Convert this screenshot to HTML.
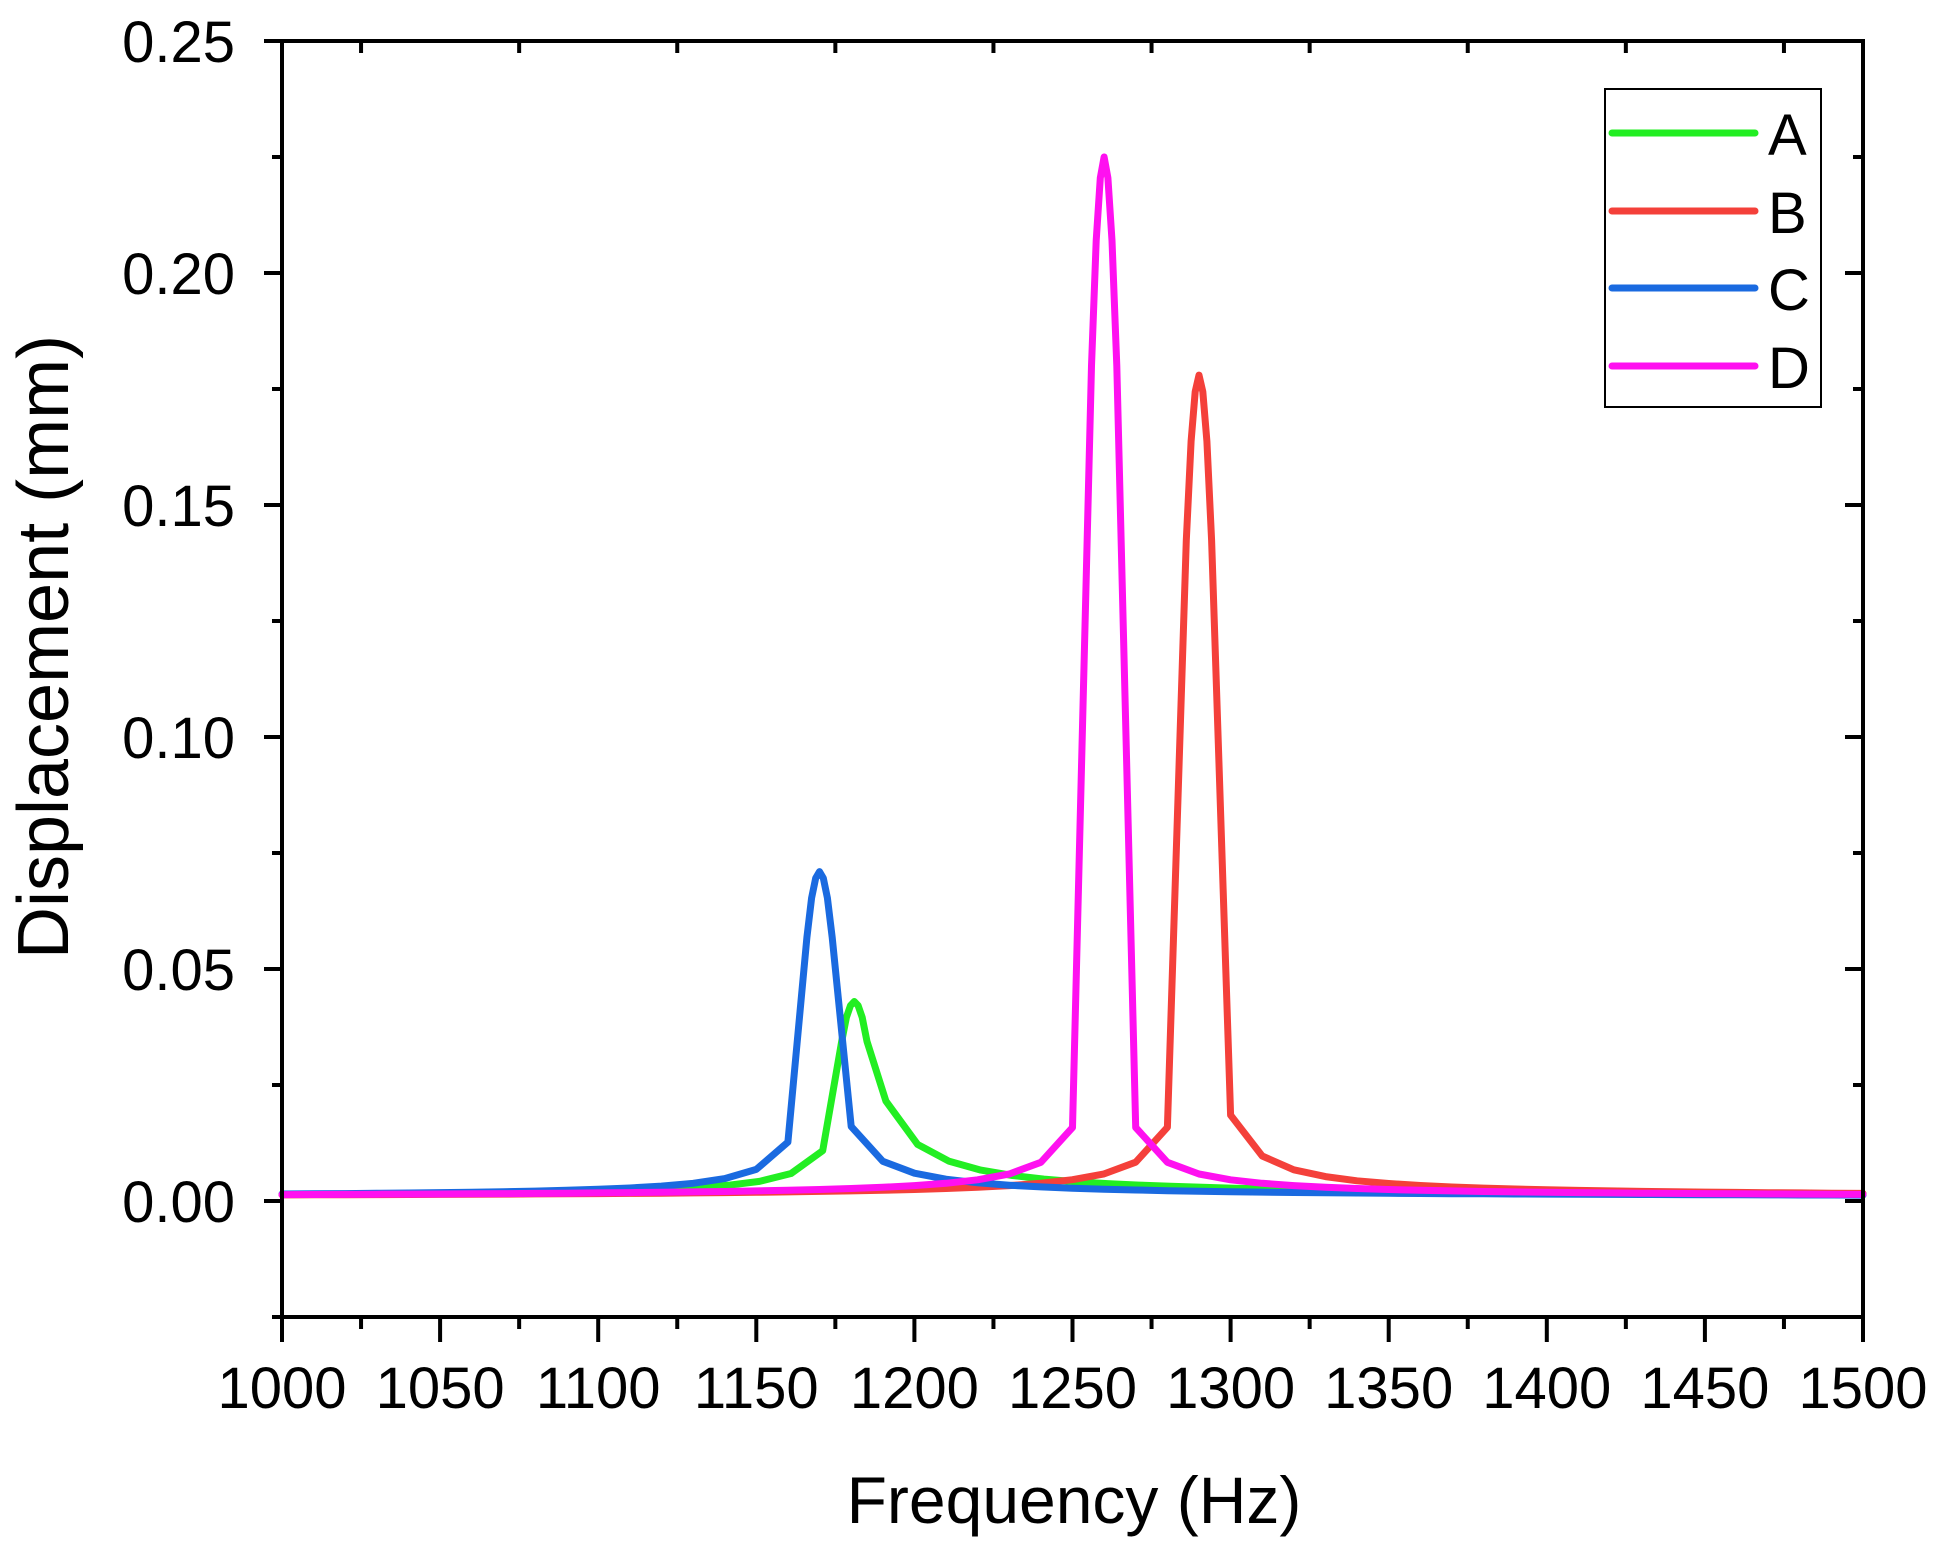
<!DOCTYPE html>
<html><head><meta charset="utf-8"><style>
body{margin:0;background:#fff;}
svg{display:block;font-family:"Liberation Sans",sans-serif;}
</style></head><body>
<svg id="s" width="1939" height="1543" xmlns="http://www.w3.org/2000/svg">
<rect width="1939" height="1543" fill="#fff"/>
<g id="curves" fill="none" stroke-width="7" stroke-linejoin="round" stroke-linecap="round"></g>
<rect x="282" y="41" width="1581" height="1276" fill="none" stroke="#000" stroke-width="4"/>
<g id="ticks" stroke="#000" stroke-width="4"></g>
<g id="labels" font-size="58" fill="#000"></g>
<text x="1074" y="1523" font-size="66" text-anchor="middle">Frequency (Hz)</text>
<text transform="translate(68,647) rotate(-90)" font-size="72" text-anchor="middle">Displacement (mm)</text>
<rect x="1605" y="89" width="216" height="318" fill="#fff" stroke="#000" stroke-width="2"/>
<g stroke-width="7" stroke-linecap="round">
<line x1="1612" y1="133" x2="1755" y2="133" stroke="#22ee22"/>
<line x1="1612" y1="211" x2="1755" y2="211" stroke="#f4403a"/>
<line x1="1612" y1="288" x2="1755" y2="288" stroke="#1a6ae0"/>
<line x1="1612" y1="366" x2="1755" y2="366" stroke="#ff10f0"/>
</g>
<g font-size="58" fill="#000">
<text x="1768" y="155">A</text><text x="1768" y="233">B</text>
<text x="1768" y="310">C</text><text x="1768" y="388">D</text>
</g>
</svg>
<script>
var X=f=>282+(f-1000)*1581/500, Y=v=>1201-v*4640;
var ns="http://www.w3.org/2000/svg";
var t=document.getElementById('ticks'),L=document.getElementById('labels');
function ln(x1,y1,x2,y2){var e=document.createElementNS(ns,'line');e.setAttribute('x1',x1);e.setAttribute('y1',y1);e.setAttribute('x2',x2);e.setAttribute('y2',y2);t.appendChild(e);}
function tx(x,y,s,a){var e=document.createElementNS(ns,'text');e.setAttribute('x',x);e.setAttribute('y',y);e.setAttribute('text-anchor',a);e.textContent=s;L.appendChild(e);}
for(var f=1000;f<=1500;f+=25){var x=X(f),maj=(f%50==0);
 ln(x,1317,x,1317+(maj?25:12));if(!maj)ln(x,41,x,53);
 if(maj)tx(x,1408,String(f),'middle');}
for(var k=-1;k<=10;k++){var v=k*0.025,y=Y(v),maj=(k%2==0);
 if(y<41||y>1317)continue;
 ln(282,y,282-(maj?18:10),y);ln(1863,y,1863-(maj?18:10),y);
 if(maj)tx(235,y+21,v.toFixed(2),'end');}
function curve(f0,A,gL,gR,col){
 function resp(f){var g=f<f0?gL:gR;return 0.0008+A/Math.sqrt(1+Math.pow((f-f0)/g,2));}
 var pts=[],s=f0-Math.floor((f0-1000)/10)*10;
 pts.push([1000,resp(1000)]);
 for(var f=s;f<=1500;f+=10){
  if(f==f0){
   [[-4,0.8],[-2.5,0.92],[-1.2,0.98],[0,1],[1.2,0.98],[2.5,0.92],[4,0.8]].forEach(p=>pts.push([f0+p[0],A*p[1]]));
  } else pts.push([f,resp(f)]);
 }
 pts.push([1500,resp(1500)]);
 var d=pts.map((p,i)=>(i?'L':'M')+X(p[0]).toFixed(1)+','+Y(p[1]).toFixed(1)).join('');
 var e=document.createElementNS(ns,'path');e.setAttribute('d',d);e.setAttribute('stroke',col);
 document.getElementById('curves').appendChild(e);}
curve(1181,0.043,2.4,5.5,'#22ee22');
curve(1290,0.178,0.85,1.0,'#f4403a');
curve(1170,0.071,1.7,2.2,'#1a6ae0');
curve(1260,0.225,0.67,0.67,'#ff10f0');
</script>
</body></html>
